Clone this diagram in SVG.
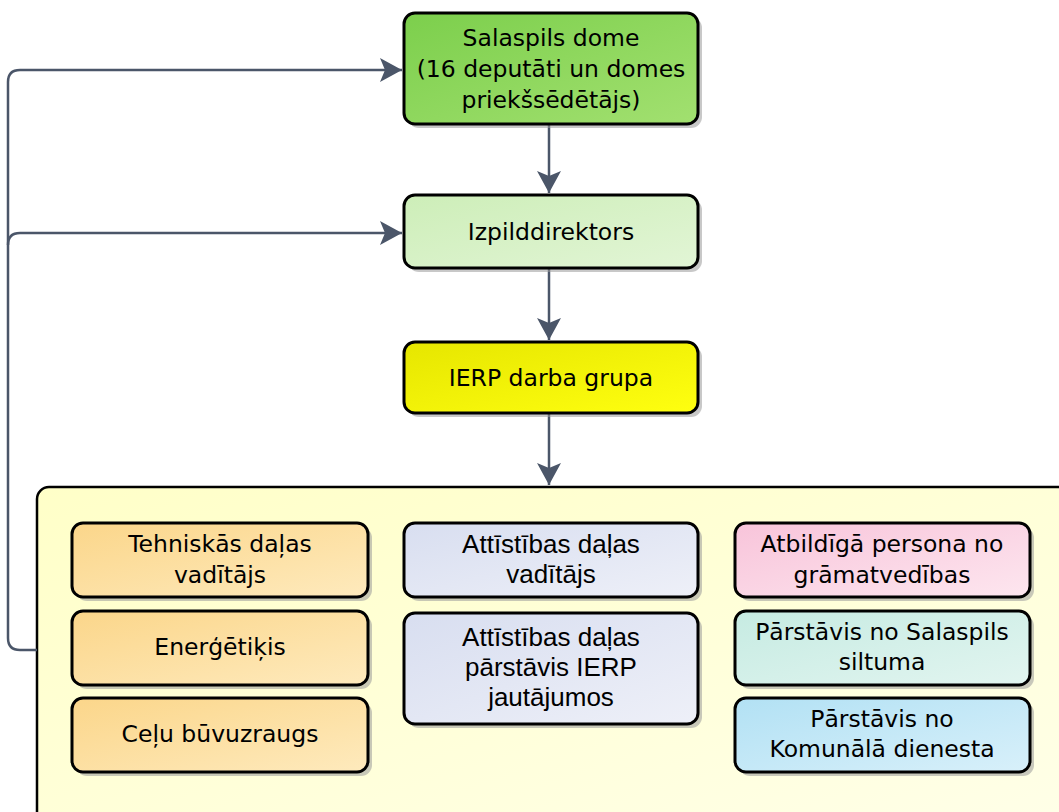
<svg xmlns="http://www.w3.org/2000/svg" width="1059" height="812" viewBox="0 0 1059 812">
<style>
.box{stroke:#000;stroke-width:3}
.sh{fill:#9a9a9a;opacity:0.55}
.t{font-family:"DejaVu Sans",sans-serif;font-size:23.5px;fill:#000;text-anchor:middle}
.a{font-family:"Liberation Sans",Arial,sans-serif;font-size:26px;fill:#000;text-anchor:middle}
.c{fill:none;stroke:#4b5669;stroke-width:2.5}
</style>
<defs>
<marker id="ah" markerWidth="24" markerHeight="24" refX="22" refY="12" orient="auto" markerUnits="userSpaceOnUse">
<path d="M0,0 L22,12 L0,24 L5,12 Z" fill="#4b5669"/>
</marker>
<linearGradient id="gGreen" x1="0" y1="0" x2="1" y2="1"><stop offset="0" stop-color="#7ccf4c"/><stop offset="1" stop-color="#a2e070"/></linearGradient>
<linearGradient id="gLGreen" x1="0" y1="0" x2="1" y2="1"><stop offset="0" stop-color="#cdeeb8"/><stop offset="1" stop-color="#e2f5d6"/></linearGradient>
<linearGradient id="gYellow" x1="0" y1="0" x2="1" y2="1"><stop offset="0" stop-color="#e6e600"/><stop offset="1" stop-color="#ffff10"/></linearGradient>
<linearGradient id="gCont" x1="0" y1="0" x2="1" y2="1"><stop offset="0" stop-color="#ffffc8"/><stop offset="1" stop-color="#ffffe8"/></linearGradient>
<linearGradient id="gOr" x1="0" y1="0" x2="1" y2="1"><stop offset="0" stop-color="#fbd68a"/><stop offset="1" stop-color="#feeabd"/></linearGradient>
<linearGradient id="gLav" x1="0" y1="0" x2="1" y2="1"><stop offset="0" stop-color="#d8def0"/><stop offset="1" stop-color="#eef0f8"/></linearGradient>
<linearGradient id="gPink" x1="0" y1="0" x2="1" y2="1"><stop offset="0" stop-color="#f8c4da"/><stop offset="1" stop-color="#fde6ef"/></linearGradient>
<linearGradient id="gTeal" x1="0" y1="0" x2="1" y2="1"><stop offset="0" stop-color="#c6ebe2"/><stop offset="1" stop-color="#e2f5f0"/></linearGradient>
<linearGradient id="gBlue" x1="0" y1="0" x2="1" y2="1"><stop offset="0" stop-color="#b2e1f4"/><stop offset="1" stop-color="#d8f0fa"/></linearGradient>
</defs>
<rect width="1059" height="812" fill="#fff"/>

<g id="container">
<rect x="37" y="487" width="1040" height="340" rx="12" fill="url(#gCont)" stroke="#000" stroke-width="2.5"/>
</g>

<g id="connectors">
<path class="c" d="M549,124 V193" marker-end="url(#ah)"/>
<path class="c" d="M549,268 V340" marker-end="url(#ah)"/>
<path class="c" d="M549,413 V485" marker-end="url(#ah)"/>
<path class="c" d="M37,650 H20 Q8,650 8,638 V82 Q8,70 20,70 H402" marker-end="url(#ah)"/>
<path class="c" d="M8,245 Q8,233 20,233 H402" marker-end="url(#ah)"/>
</g>

<g id="n-dome">
<rect class="sh" x="408" y="17" width="294" height="111" rx="11"/>
<rect class="box" x="404" y="13" width="294" height="111" rx="11" fill="url(#gGreen)"/>
<text class="t" x="551" y="46">Salaspils dome</text>
<text class="t" x="551" y="77">(16 deputāti un domes</text>
<text class="t" x="551" y="108">priekšsēdētājs)</text>
</g>

<g id="n-izp">
<rect class="sh" x="408" y="199" width="294" height="73" rx="11"/>
<rect class="box" x="404" y="195" width="294" height="73" rx="11" fill="url(#gLGreen)"/>
<text class="t" x="551" y="240">Izpilddirektors</text>
</g>

<g id="n-ierp">
<rect class="sh" x="408" y="346" width="294" height="71" rx="11"/>
<rect class="box" x="404" y="342" width="294" height="71" rx="11" fill="url(#gYellow)"/>
<text class="t" x="551" y="386">IERP darba grupa</text>
</g>

<g id="n-teh">
<rect class="sh" x="76" y="527" width="296" height="74" rx="11"/>
<rect class="box" x="72" y="523" width="296" height="74" rx="11" fill="url(#gOr)"/>
<text class="t" x="220" y="552">Tehniskās daļas</text>
<text class="t" x="220" y="583">vadītājs</text>
</g>
<g id="n-ener">
<rect class="sh" x="76" y="615" width="296" height="74" rx="11"/>
<rect class="box" x="72" y="611" width="296" height="74" rx="11" fill="url(#gOr)"/>
<text class="t" x="220" y="655">Enerģētiķis</text>
</g>
<g id="n-celu">
<rect class="sh" x="76" y="702" width="296" height="74" rx="11"/>
<rect class="box" x="72" y="698" width="296" height="74" rx="11" fill="url(#gOr)"/>
<text class="t" x="220" y="742">Ceļu būvuzraugs</text>
</g>

<g id="n-att1">
<rect class="sh" x="408" y="527" width="294" height="74" rx="11"/>
<rect class="box" x="404" y="523" width="294" height="74" rx="11" fill="url(#gLav)"/>
<text class="a" x="551" y="553">Attīstības daļas</text>
<text class="a" x="551" y="583">vadītājs</text>
</g>
<g id="n-att2">
<rect class="sh" x="408" y="617" width="294" height="111" rx="11"/>
<rect class="box" x="404" y="613" width="294" height="111" rx="11" fill="url(#gLav)"/>
<text class="a" x="551" y="646">Attīstības daļas</text>
<text class="a" x="551" y="676">pārstāvis IERP</text>
<text class="a" x="551" y="706">jautājumos</text>
</g>

<g id="n-gram">
<rect class="sh" x="739" y="527" width="295" height="74" rx="11"/>
<rect class="box" x="735" y="523" width="295" height="74" rx="11" fill="url(#gPink)"/>
<text class="t" x="882" y="552">Atbildīgā persona no</text>
<text class="t" x="882" y="583">grāmatvedības</text>
</g>
<g id="n-silt">
<rect class="sh" x="739" y="615" width="295" height="74" rx="11"/>
<rect class="box" x="735" y="611" width="295" height="74" rx="11" fill="url(#gTeal)"/>
<text class="t" x="882" y="640">Pārstāvis no Salaspils</text>
<text class="t" x="882" y="670">siltuma</text>
</g>
<g id="n-kom">
<rect class="sh" x="739" y="702" width="295" height="74" rx="11"/>
<rect class="box" x="735" y="698" width="295" height="74" rx="11" fill="url(#gBlue)"/>
<text class="t" x="882" y="727">Pārstāvis no</text>
<text class="t" x="882" y="757">Komunālā dienesta</text>
</g>
</svg>
